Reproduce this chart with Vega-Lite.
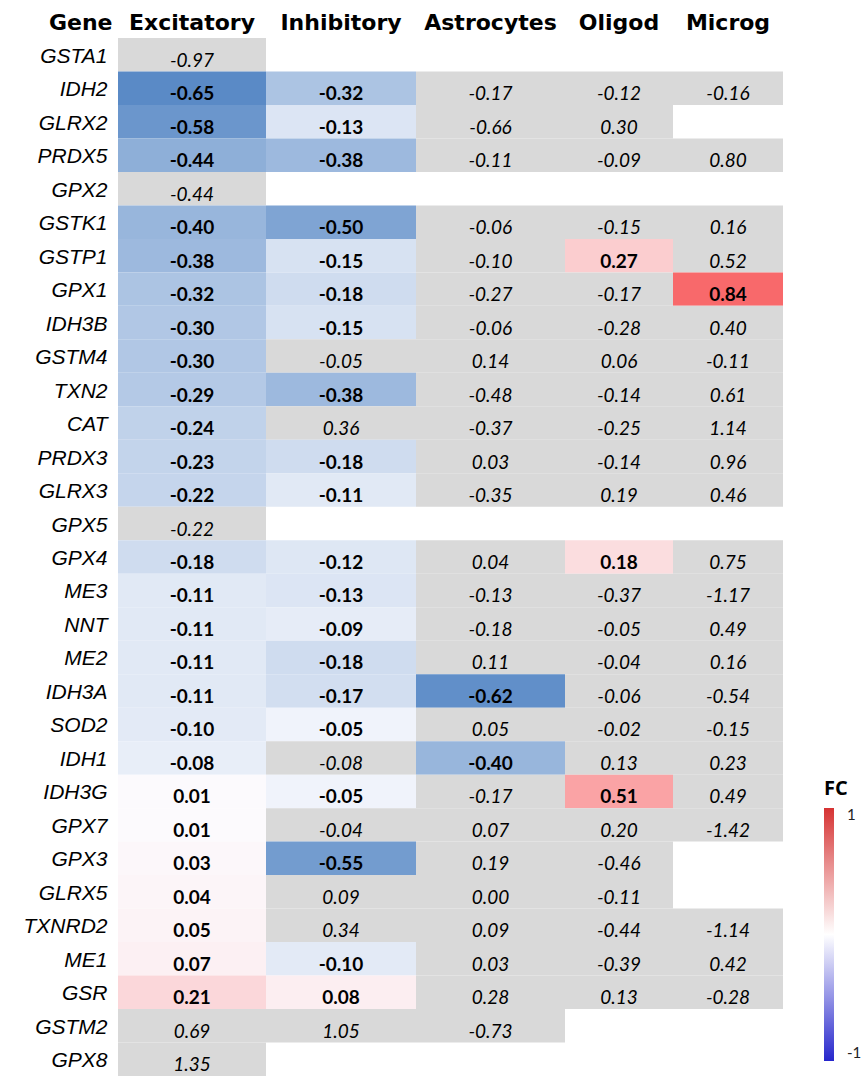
{
  "$schema": "https://vega.github.io/schema/vega-lite/v6.json",
  "padding": {"left": 22, "top": 11, "right": 0, "bottom": 0},
  "config": {
    "view": {"stroke": null},
    "concat": {"spacing": 0},
    "locale": {"number": {"decimal": ".", "thousands": ",", "grouping": [3], "currency": ["$", ""], "minus": "-"}}
  },
  "spacing": 0,
  "resolve": {"scale": {"color": "independent", "fill": "independent", "y": "independent", "x": "independent"}, "legend": {"color": "independent", "fill": "independent"}},
  "data": {"values": [
    {"gene":"GSTA1","type":"Excitatory","fc":-0.97,"sig":false},
    {"gene":"IDH2","type":"Excitatory","fc":-0.65,"sig":true},
    {"gene":"GLRX2","type":"Excitatory","fc":-0.58,"sig":true},
    {"gene":"PRDX5","type":"Excitatory","fc":-0.44,"sig":true},
    {"gene":"GPX2","type":"Excitatory","fc":-0.44,"sig":false},
    {"gene":"GSTK1","type":"Excitatory","fc":-0.40,"sig":true},
    {"gene":"GSTP1","type":"Excitatory","fc":-0.38,"sig":true},
    {"gene":"GPX1","type":"Excitatory","fc":-0.32,"sig":true},
    {"gene":"IDH3B","type":"Excitatory","fc":-0.30,"sig":true},
    {"gene":"GSTM4","type":"Excitatory","fc":-0.30,"sig":true},
    {"gene":"TXN2","type":"Excitatory","fc":-0.29,"sig":true},
    {"gene":"CAT","type":"Excitatory","fc":-0.24,"sig":true},
    {"gene":"PRDX3","type":"Excitatory","fc":-0.23,"sig":true},
    {"gene":"GLRX3","type":"Excitatory","fc":-0.22,"sig":true},
    {"gene":"GPX5","type":"Excitatory","fc":-0.22,"sig":false},
    {"gene":"GPX4","type":"Excitatory","fc":-0.18,"sig":true},
    {"gene":"ME3","type":"Excitatory","fc":-0.11,"sig":true},
    {"gene":"NNT","type":"Excitatory","fc":-0.11,"sig":true},
    {"gene":"ME2","type":"Excitatory","fc":-0.11,"sig":true},
    {"gene":"IDH3A","type":"Excitatory","fc":-0.11,"sig":true},
    {"gene":"SOD2","type":"Excitatory","fc":-0.10,"sig":true},
    {"gene":"IDH1","type":"Excitatory","fc":-0.08,"sig":true},
    {"gene":"IDH3G","type":"Excitatory","fc":0.01,"sig":true},
    {"gene":"GPX7","type":"Excitatory","fc":0.01,"sig":true},
    {"gene":"GPX3","type":"Excitatory","fc":0.03,"sig":true},
    {"gene":"GLRX5","type":"Excitatory","fc":0.04,"sig":true},
    {"gene":"TXNRD2","type":"Excitatory","fc":0.05,"sig":true},
    {"gene":"ME1","type":"Excitatory","fc":0.07,"sig":true},
    {"gene":"GSR","type":"Excitatory","fc":0.21,"sig":true},
    {"gene":"GSTM2","type":"Excitatory","fc":0.69,"sig":false},
    {"gene":"GPX8","type":"Excitatory","fc":1.35,"sig":false},

    {"gene":"IDH2","type":"Inhibitory","fc":-0.32,"sig":true},
    {"gene":"GLRX2","type":"Inhibitory","fc":-0.13,"sig":true},
    {"gene":"PRDX5","type":"Inhibitory","fc":-0.38,"sig":true},
    {"gene":"GSTK1","type":"Inhibitory","fc":-0.50,"sig":true},
    {"gene":"GSTP1","type":"Inhibitory","fc":-0.15,"sig":true},
    {"gene":"GPX1","type":"Inhibitory","fc":-0.18,"sig":true},
    {"gene":"IDH3B","type":"Inhibitory","fc":-0.15,"sig":true},
    {"gene":"GSTM4","type":"Inhibitory","fc":-0.05,"sig":false},
    {"gene":"TXN2","type":"Inhibitory","fc":-0.38,"sig":true},
    {"gene":"CAT","type":"Inhibitory","fc":0.36,"sig":false},
    {"gene":"PRDX3","type":"Inhibitory","fc":-0.18,"sig":true},
    {"gene":"GLRX3","type":"Inhibitory","fc":-0.11,"sig":true},
    {"gene":"GPX4","type":"Inhibitory","fc":-0.12,"sig":true},
    {"gene":"ME3","type":"Inhibitory","fc":-0.13,"sig":true},
    {"gene":"NNT","type":"Inhibitory","fc":-0.09,"sig":true},
    {"gene":"ME2","type":"Inhibitory","fc":-0.18,"sig":true},
    {"gene":"IDH3A","type":"Inhibitory","fc":-0.17,"sig":true},
    {"gene":"SOD2","type":"Inhibitory","fc":-0.05,"sig":true},
    {"gene":"IDH1","type":"Inhibitory","fc":-0.08,"sig":false},
    {"gene":"IDH3G","type":"Inhibitory","fc":-0.05,"sig":true},
    {"gene":"GPX7","type":"Inhibitory","fc":-0.04,"sig":false},
    {"gene":"GPX3","type":"Inhibitory","fc":-0.55,"sig":true},
    {"gene":"GLRX5","type":"Inhibitory","fc":0.09,"sig":false},
    {"gene":"TXNRD2","type":"Inhibitory","fc":0.34,"sig":false},
    {"gene":"ME1","type":"Inhibitory","fc":-0.10,"sig":true},
    {"gene":"GSR","type":"Inhibitory","fc":0.08,"sig":true},
    {"gene":"GSTM2","type":"Inhibitory","fc":1.05,"sig":false},

    {"gene":"IDH2","type":"Astrocytes","fc":-0.17,"sig":false},
    {"gene":"GLRX2","type":"Astrocytes","fc":-0.66,"sig":false},
    {"gene":"PRDX5","type":"Astrocytes","fc":-0.11,"sig":false},
    {"gene":"GSTK1","type":"Astrocytes","fc":-0.06,"sig":false},
    {"gene":"GSTP1","type":"Astrocytes","fc":-0.10,"sig":false},
    {"gene":"GPX1","type":"Astrocytes","fc":-0.27,"sig":false},
    {"gene":"IDH3B","type":"Astrocytes","fc":-0.06,"sig":false},
    {"gene":"GSTM4","type":"Astrocytes","fc":0.14,"sig":false},
    {"gene":"TXN2","type":"Astrocytes","fc":-0.48,"sig":false},
    {"gene":"CAT","type":"Astrocytes","fc":-0.37,"sig":false},
    {"gene":"PRDX3","type":"Astrocytes","fc":0.03,"sig":false},
    {"gene":"GLRX3","type":"Astrocytes","fc":-0.35,"sig":false},
    {"gene":"GPX4","type":"Astrocytes","fc":0.04,"sig":false},
    {"gene":"ME3","type":"Astrocytes","fc":-0.13,"sig":false},
    {"gene":"NNT","type":"Astrocytes","fc":-0.18,"sig":false},
    {"gene":"ME2","type":"Astrocytes","fc":0.11,"sig":false},
    {"gene":"IDH3A","type":"Astrocytes","fc":-0.62,"sig":true},
    {"gene":"SOD2","type":"Astrocytes","fc":0.05,"sig":false},
    {"gene":"IDH1","type":"Astrocytes","fc":-0.40,"sig":true},
    {"gene":"IDH3G","type":"Astrocytes","fc":-0.17,"sig":false},
    {"gene":"GPX7","type":"Astrocytes","fc":0.07,"sig":false},
    {"gene":"GPX3","type":"Astrocytes","fc":0.19,"sig":false},
    {"gene":"GLRX5","type":"Astrocytes","fc":0.00,"sig":false},
    {"gene":"TXNRD2","type":"Astrocytes","fc":0.09,"sig":false},
    {"gene":"ME1","type":"Astrocytes","fc":0.03,"sig":false},
    {"gene":"GSR","type":"Astrocytes","fc":0.28,"sig":false},
    {"gene":"GSTM2","type":"Astrocytes","fc":-0.73,"sig":false},

    {"gene":"IDH2","type":"Oligod","fc":-0.12,"sig":false},
    {"gene":"GLRX2","type":"Oligod","fc":0.30,"sig":false},
    {"gene":"PRDX5","type":"Oligod","fc":-0.09,"sig":false},
    {"gene":"GSTK1","type":"Oligod","fc":-0.15,"sig":false},
    {"gene":"GSTP1","type":"Oligod","fc":0.27,"sig":true},
    {"gene":"GPX1","type":"Oligod","fc":-0.17,"sig":false},
    {"gene":"IDH3B","type":"Oligod","fc":-0.28,"sig":false},
    {"gene":"GSTM4","type":"Oligod","fc":0.06,"sig":false},
    {"gene":"TXN2","type":"Oligod","fc":-0.14,"sig":false},
    {"gene":"CAT","type":"Oligod","fc":-0.25,"sig":false},
    {"gene":"PRDX3","type":"Oligod","fc":-0.14,"sig":false},
    {"gene":"GLRX3","type":"Oligod","fc":0.19,"sig":false},
    {"gene":"GPX4","type":"Oligod","fc":0.18,"sig":true},
    {"gene":"ME3","type":"Oligod","fc":-0.37,"sig":false},
    {"gene":"NNT","type":"Oligod","fc":-0.05,"sig":false},
    {"gene":"ME2","type":"Oligod","fc":-0.04,"sig":false},
    {"gene":"IDH3A","type":"Oligod","fc":-0.06,"sig":false},
    {"gene":"SOD2","type":"Oligod","fc":-0.02,"sig":false},
    {"gene":"IDH1","type":"Oligod","fc":0.13,"sig":false},
    {"gene":"IDH3G","type":"Oligod","fc":0.51,"sig":true},
    {"gene":"GPX7","type":"Oligod","fc":0.20,"sig":false},
    {"gene":"GPX3","type":"Oligod","fc":-0.46,"sig":false},
    {"gene":"GLRX5","type":"Oligod","fc":-0.11,"sig":false},
    {"gene":"TXNRD2","type":"Oligod","fc":-0.44,"sig":false},
    {"gene":"ME1","type":"Oligod","fc":-0.39,"sig":false},
    {"gene":"GSR","type":"Oligod","fc":0.13,"sig":false},

    {"gene":"IDH2","type":"Microg","fc":-0.16,"sig":false},
    {"gene":"PRDX5","type":"Microg","fc":0.80,"sig":false},
    {"gene":"GSTK1","type":"Microg","fc":0.16,"sig":false},
    {"gene":"GSTP1","type":"Microg","fc":0.52,"sig":false},
    {"gene":"GPX1","type":"Microg","fc":0.84,"sig":true},
    {"gene":"IDH3B","type":"Microg","fc":0.40,"sig":false},
    {"gene":"GSTM4","type":"Microg","fc":-0.11,"sig":false},
    {"gene":"TXN2","type":"Microg","fc":0.61,"sig":false},
    {"gene":"CAT","type":"Microg","fc":1.14,"sig":false},
    {"gene":"PRDX3","type":"Microg","fc":0.96,"sig":false},
    {"gene":"GLRX3","type":"Microg","fc":0.46,"sig":false},
    {"gene":"GPX4","type":"Microg","fc":0.75,"sig":false},
    {"gene":"ME3","type":"Microg","fc":-1.17,"sig":false},
    {"gene":"NNT","type":"Microg","fc":0.49,"sig":false},
    {"gene":"ME2","type":"Microg","fc":0.16,"sig":false},
    {"gene":"IDH3A","type":"Microg","fc":-0.54,"sig":false},
    {"gene":"SOD2","type":"Microg","fc":-0.15,"sig":false},
    {"gene":"IDH1","type":"Microg","fc":0.23,"sig":false},
    {"gene":"IDH3G","type":"Microg","fc":0.49,"sig":false},
    {"gene":"GPX7","type":"Microg","fc":-1.42,"sig":false},
    {"gene":"TXNRD2","type":"Microg","fc":-1.14,"sig":false},
    {"gene":"ME1","type":"Microg","fc":0.42,"sig":false},
    {"gene":"GSR","type":"Microg","fc":-0.28,"sig":false}
  ]},
  "hconcat": [
    {
      "width": 148, "height": 1038,
      "transform": [{"filter": {"field": "type", "equal": "Excitatory"}}],
      "encoding": {
        "y": {"field": "gene", "type": "nominal",
          "scale": {"domain": ["GSTA1","IDH2","GLRX2","PRDX5","GPX2","GSTK1","GSTP1","GPX1","IDH3B","GSTM4","TXN2","CAT","PRDX3","GLRX3","GPX5","GPX4","ME3","NNT","ME2","IDH3A","SOD2","IDH1","IDH3G","GPX7","GPX3","GLRX5","TXNRD2","ME1","GSR","GSTM2","GPX8"], "paddingInner": 0, "paddingOuter": 0},
          "axis": {"title": "Gene", "titleAngle": 0, "titleAlign": "right", "titleBaseline": "alphabetic", "titleX": -6, "titleY": -9, "titleFont": "DejaVu Sans", "titleFontSize": 22, "titleFontWeight": "bold", "titleColor": "#000",
            "domain": false, "ticks": false, "labelPadding": 11, "labelFont": "Liberation Sans", "labelFontSize": 21, "labelFontStyle": "italic", "labelColor": "#000", "labelBaseline": "alphabetic", "labelOffset": 8}},
        "x": {"field": "type", "type": "nominal", "scale": {"paddingInner": 0, "paddingOuter": 0},
          "axis": {"orient": "top", "title": null, "domain": false, "ticks": false, "labelAngle": 0, "labelFont": "DejaVu Sans", "labelFontSize": 22, "labelFontWeight": "bold", "labelColor": "#000", "labelBaseline": "alphabetic", "labelPadding": 9}}
      },
      "layer": [
        {"mark": {"type": "rect"}, "encoding": {"fill": {"field": "fc", "type": "quantitative", "condition": {"test": "!datum.sig", "value": "#D9D9D9"}, "scale": {"domain": [-0.65, 0, 0.84], "range": ["#5A8AC6", "#FCFCFF", "#F8696B"], "interpolate": "rgb"}, "legend": null}}},
        {"transform": [{"filter": "datum.sig"}], "mark": {"type": "text", "font": "Lato", "fontSize": 19, "fontWeight": "bold", "baseline": "alphabetic", "dy": 12, "color": "#000"}, "encoding": {"text": {"field": "fc", "type": "quantitative", "format": ".2f"}}},
        {"transform": [{"filter": "!datum.sig"}], "mark": {"type": "text", "font": "Lato", "fontSize": 19, "fontStyle": "italic", "baseline": "alphabetic", "dy": 12, "color": "#000"}, "encoding": {"text": {"field": "fc", "type": "quantitative", "format": ".2f"}}}
      ]
    },
    {
      "width": 150, "height": 1038,
      "transform": [{"filter": {"field": "type", "equal": "Inhibitory"}}],
      "encoding": {
        "y": {"field": "gene", "type": "nominal",
          "scale": {"domain": ["GSTA1","IDH2","GLRX2","PRDX5","GPX2","GSTK1","GSTP1","GPX1","IDH3B","GSTM4","TXN2","CAT","PRDX3","GLRX3","GPX5","GPX4","ME3","NNT","ME2","IDH3A","SOD2","IDH1","IDH3G","GPX7","GPX3","GLRX5","TXNRD2","ME1","GSR","GSTM2","GPX8"], "paddingInner": 0, "paddingOuter": 0},
          "axis": null},
        "x": {"field": "type", "type": "nominal", "scale": {"paddingInner": 0, "paddingOuter": 0},
          "axis": {"orient": "top", "title": null, "domain": false, "ticks": false, "labelAngle": 0, "labelFont": "DejaVu Sans", "labelFontSize": 22, "labelFontWeight": "bold", "labelColor": "#000", "labelBaseline": "alphabetic", "labelPadding": 9}}
      },
      "layer": [
        {"mark": {"type": "rect"}, "encoding": {"fill": {"field": "fc", "type": "quantitative", "condition": {"test": "!datum.sig", "value": "#D9D9D9"}, "scale": {"domain": [-0.65, 0, 0.84], "range": ["#5A8AC6", "#FCFCFF", "#F8696B"], "interpolate": "rgb"}, "legend": null}}},
        {"transform": [{"filter": "datum.sig"}], "mark": {"type": "text", "font": "Lato", "fontSize": 19, "fontWeight": "bold", "baseline": "alphabetic", "dy": 12, "color": "#000"}, "encoding": {"text": {"field": "fc", "type": "quantitative", "format": ".2f"}}},
        {"transform": [{"filter": "!datum.sig"}], "mark": {"type": "text", "font": "Lato", "fontSize": 19, "fontStyle": "italic", "baseline": "alphabetic", "dy": 12, "color": "#000"}, "encoding": {"text": {"field": "fc", "type": "quantitative", "format": ".2f"}}}
      ]
    },
    {
      "width": 149, "height": 1038,
      "transform": [{"filter": {"field": "type", "equal": "Astrocytes"}}],
      "encoding": {
        "y": {"field": "gene", "type": "nominal",
          "scale": {"domain": ["GSTA1","IDH2","GLRX2","PRDX5","GPX2","GSTK1","GSTP1","GPX1","IDH3B","GSTM4","TXN2","CAT","PRDX3","GLRX3","GPX5","GPX4","ME3","NNT","ME2","IDH3A","SOD2","IDH1","IDH3G","GPX7","GPX3","GLRX5","TXNRD2","ME1","GSR","GSTM2","GPX8"], "paddingInner": 0, "paddingOuter": 0},
          "axis": null},
        "x": {"field": "type", "type": "nominal", "scale": {"paddingInner": 0, "paddingOuter": 0},
          "axis": {"orient": "top", "title": null, "domain": false, "ticks": false, "labelAngle": 0, "labelFont": "DejaVu Sans", "labelFontSize": 22, "labelFontWeight": "bold", "labelColor": "#000", "labelBaseline": "alphabetic", "labelPadding": 9}}
      },
      "layer": [
        {"mark": {"type": "rect"}, "encoding": {"fill": {"field": "fc", "type": "quantitative", "condition": {"test": "!datum.sig", "value": "#D9D9D9"}, "scale": {"domain": [-0.65, 0, 0.84], "range": ["#5A8AC6", "#FCFCFF", "#F8696B"], "interpolate": "rgb"}, "legend": null}}},
        {"transform": [{"filter": "datum.sig"}], "mark": {"type": "text", "font": "Lato", "fontSize": 19, "fontWeight": "bold", "baseline": "alphabetic", "dy": 12, "color": "#000"}, "encoding": {"text": {"field": "fc", "type": "quantitative", "format": ".2f"}}},
        {"transform": [{"filter": "!datum.sig"}], "mark": {"type": "text", "font": "Lato", "fontSize": 19, "fontStyle": "italic", "baseline": "alphabetic", "dy": 12, "color": "#000"}, "encoding": {"text": {"field": "fc", "type": "quantitative", "format": ".2f"}}}
      ]
    },
    {
      "width": 108, "height": 1038,
      "transform": [{"filter": {"field": "type", "equal": "Oligod"}}],
      "encoding": {
        "y": {"field": "gene", "type": "nominal",
          "scale": {"domain": ["GSTA1","IDH2","GLRX2","PRDX5","GPX2","GSTK1","GSTP1","GPX1","IDH3B","GSTM4","TXN2","CAT","PRDX3","GLRX3","GPX5","GPX4","ME3","NNT","ME2","IDH3A","SOD2","IDH1","IDH3G","GPX7","GPX3","GLRX5","TXNRD2","ME1","GSR","GSTM2","GPX8"], "paddingInner": 0, "paddingOuter": 0},
          "axis": null},
        "x": {"field": "type", "type": "nominal", "scale": {"paddingInner": 0, "paddingOuter": 0},
          "axis": {"orient": "top", "title": null, "domain": false, "ticks": false, "labelAngle": 0, "labelFont": "DejaVu Sans", "labelFontSize": 22, "labelFontWeight": "bold", "labelColor": "#000", "labelBaseline": "alphabetic", "labelPadding": 9}}
      },
      "layer": [
        {"mark": {"type": "rect"}, "encoding": {"fill": {"field": "fc", "type": "quantitative", "condition": {"test": "!datum.sig", "value": "#D9D9D9"}, "scale": {"domain": [-0.65, 0, 0.84], "range": ["#5A8AC6", "#FCFCFF", "#F8696B"], "interpolate": "rgb"}, "legend": null}}},
        {"transform": [{"filter": "datum.sig"}], "mark": {"type": "text", "font": "Lato", "fontSize": 19, "fontWeight": "bold", "baseline": "alphabetic", "dy": 12, "color": "#000"}, "encoding": {"text": {"field": "fc", "type": "quantitative", "format": ".2f"}}},
        {"transform": [{"filter": "!datum.sig"}], "mark": {"type": "text", "font": "Lato", "fontSize": 19, "fontStyle": "italic", "baseline": "alphabetic", "dy": 12, "color": "#000"}, "encoding": {"text": {"field": "fc", "type": "quantitative", "format": ".2f"}}}
      ]
    },
    {
      "width": 110, "height": 1038,
      "transform": [{"filter": {"field": "type", "equal": "Microg"}}],
      "encoding": {
        "y": {"field": "gene", "type": "nominal",
          "scale": {"domain": ["GSTA1","IDH2","GLRX2","PRDX5","GPX2","GSTK1","GSTP1","GPX1","IDH3B","GSTM4","TXN2","CAT","PRDX3","GLRX3","GPX5","GPX4","ME3","NNT","ME2","IDH3A","SOD2","IDH1","IDH3G","GPX7","GPX3","GLRX5","TXNRD2","ME1","GSR","GSTM2","GPX8"], "paddingInner": 0, "paddingOuter": 0},
          "axis": null},
        "x": {"field": "type", "type": "nominal", "scale": {"paddingInner": 0, "paddingOuter": 0},
          "axis": {"orient": "top", "title": null, "domain": false, "ticks": false, "labelAngle": 0, "labelFont": "DejaVu Sans", "labelFontSize": 22, "labelFontWeight": "bold", "labelColor": "#000", "labelBaseline": "alphabetic", "labelPadding": 9}}
      },
      "layer": [
        {"mark": {"type": "rect", "opacity": 0}, "encoding": {"color": {"field": "fc", "type": "quantitative", "scale": {"domain": [-1, 0, 1], "range": ["#2626CC", "#FFFFFF", "#D63333"], "interpolate": "rgb"},
          "legend": {"title": "FC", "orient": "none", "legendX": 151, "legendY": 741, "direction": "vertical", "gradientLength": 253, "gradientThickness": 10, "gradientStrokeWidth": 0, "values": [-1, 1], "format": ".0f",
            "titleFont": "Open Sans", "titleFontSize": 20, "titleFontWeight": "bold", "titleColor": "#000", "titlePadding": 9,
            "labelFont": "Lato", "labelFontSize": 15, "labelColor": "#222", "labelOffset": 13}}}},
        {"mark": {"type": "rect"}, "encoding": {"fill": {"field": "fc", "type": "quantitative", "condition": {"test": "!datum.sig", "value": "#D9D9D9"}, "scale": {"domain": [-0.65, 0, 0.84], "range": ["#5A8AC6", "#FCFCFF", "#F8696B"], "interpolate": "rgb"}, "legend": null}}},
        {"transform": [{"filter": "datum.sig"}], "mark": {"type": "text", "font": "Lato", "fontSize": 19, "fontWeight": "bold", "baseline": "alphabetic", "dy": 12, "color": "#000"}, "encoding": {"text": {"field": "fc", "type": "quantitative", "format": ".2f"}}},
        {"transform": [{"filter": "!datum.sig"}], "mark": {"type": "text", "font": "Lato", "fontSize": 19, "fontStyle": "italic", "baseline": "alphabetic", "dy": 12, "color": "#000"}, "encoding": {"text": {"field": "fc", "type": "quantitative", "format": ".2f"}}}
      ]
    }
  ]
}
